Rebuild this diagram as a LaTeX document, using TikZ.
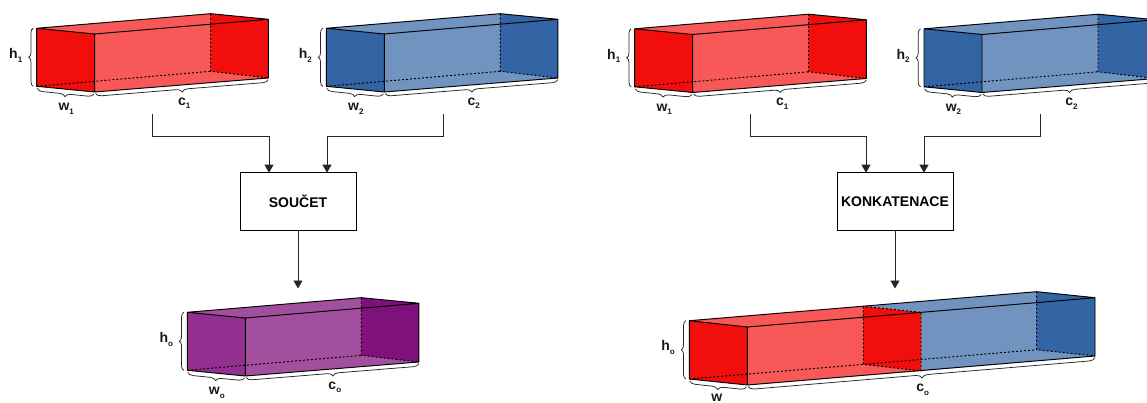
\documentclass[tikz,border=0pt]{standalone}
\usepackage{fontspec}
\setmainfont{Liberation Sans}
\usetikzlibrary{arrows.meta,decorations.pathreplacing,calc}
\definecolor{redD}{HTML}{F30E0E}
\definecolor{redL}{HTML}{F85858}
\definecolor{bluD}{HTML}{3364A4}
\definecolor{bluL}{HTML}{7093C0}
\definecolor{purD}{HTML}{7E117B}
\definecolor{purM}{HTML}{932F8F}
\definecolor{purL}{HTML}{A24F9D}
\tikzset{
  solidedge/.style={draw=black,line width=0.95pt,line join=round},
  hidden/.style={draw=black,line width=0.95pt,dash pattern=on 2pt off 2pt},
  lbl/.style={font=\fontsize{14}{14}\bfseries\selectfont,inner sep=0pt,text=black!90},
  brc/.style={draw=black!85,line width=0.75pt,decorate,decoration={brace,amplitude=#1}},
  brc/.default=5.5pt,
  opbox/.style={draw=black,line width=0.85pt,fill=white,minimum width=116pt,minimum height=58pt,inner sep=0pt,font=\fontsize{14}{14}\bfseries\selectfont},
  flow/.style={draw=black!85,line width=0.85pt,-{Triangle[width=9pt,length=8pt]}},
}
\newcommand{\sbt}[1]{\raisebox{-3.5pt}{\fontsize{8}{8}\selectfont #1}}
% prefix, x, y, dark, light, left face, h-sub, w-sub, c-sub
\newcommand{\cuboidbox}[9]{%
  \begin{scope}[shift={(#2,#3)}]
    \coordinate (#1A) at (0,0);
    \coordinate (#1B) at (58,5.7);
    \coordinate (#1C) at (58,63.7);
    \coordinate (#1D) at (0,58);
    \coordinate (#1E) at (174,-14.6);
    \coordinate (#1F) at (231.6,-9);
    \coordinate (#1G) at (231.6,49.7);
    \coordinate (#1H) at (174,43);
    \fill[#5] (#1A)--(#1E)--(#1F)--(#1G)--(#1C)--(#1D)--cycle;
    \fill[#4] (#1E)--(#1F)--(#1G)--(#1H)--cycle;
    \fill[#6] (#1A)--(#1B)--(#1C)--(#1D)--cycle;
    \draw[hidden] (#1E)--(#1H)--(#1G) (#1D)--(#1H);
    \draw[solidedge] (#1D)--(#1A)--(#1E)--(#1F)--(#1G)--(#1C)--(#1D) (#1A)--(#1B)--(#1F) (#1B)--(#1C);
    \draw[brc=4.5pt] ($(#1D)+(-3.5,0)$) -- ($(#1A)+(-3.5,0)$);
    \draw[brc] ($(#1C)+(-0.8,2)$) -- ($(#1D)+(0.5,2)$);
    \draw[brc] ($(#1G)+(0,1.5)$) -- ($(#1C)+(0.8,1.5)$);
    \node[lbl] (#1h) at (-21,27) {h\sbt{#7}};
    \node[lbl] (#1w) at (29.5,80.5) {w\sbt{#8}};
    \node[lbl] (#1c) at (147.5,75) {c\sbt{#9}};
  \end{scope}
}
\begin{document}
\begin{tikzpicture}[x=1pt,y=-1pt]
\useasboundingbox (0,0) rectangle (1147,403);
\cuboidbox{a}{36.7}{28.3}{redD}{redL}{redD}{1}{1}{1}
\cuboidbox{b}{326.3}{28.3}{bluD}{bluL}{bluD}{2}{2}{2}
\cuboidbox{p}{187.3}{312.3}{purD}{purL}{purM}{o}{o}{o}
\cuboidbox{d}{634.7}{28.8}{redD}{redL}{redD}{1}{1}{1}
\cuboidbox{e}{924}{28.8}{bluD}{bluL}{bluD}{2}{2}{2}

% concatenated block
\coordinate (A) at (689.3,320.7);
\coordinate (B) at (747.3,327);
\coordinate (C) at (747.3,385);
\coordinate (D) at (689.3,379);
\coordinate (E1) at (863.3,306.3);
\coordinate (F1) at (921,312.3);
\coordinate (G1) at (921,371);
\coordinate (H1) at (863.3,364.3);
\coordinate (E2) at (1036.7,291.7);
\coordinate (F2) at (1095,297.7);
\coordinate (G2) at (1095,356);
\coordinate (H2) at (1036.7,349.7);
\fill[redL] (A)--(E1)--(F1)--(G1)--(C)--(D)--cycle;
\fill[bluL] (E1)--(E2)--(F2)--(G2)--(G1)--(F1)--cycle;
\fill[redD] (E1)--(F1)--(G1)--(H1)--cycle;
\fill[redD] (A)--(B)--(C)--(D)--cycle;
\fill[bluD] (E2)--(F2)--(G2)--(H2)--cycle;
\draw[hidden] (E1)--(H1)--(G1)--(F1)--(E1) (E2)--(H2)--(G2) (D)--(H2);
\draw[solidedge] (D)--(A)--(E2)--(F2)--(G2)--(C)--(D) (A)--(B)--(F2) (B)--(C);
\draw[brc=4.5pt] ($(D)+(-3.5,0)$) -- ($(A)+(-3.5,0)$);
\draw[brc] ($(C)+(-0.8,2)$) -- ($(D)+(0.5,2)$);
\draw[brc=6pt] ($(G2)+(0,1.5)$) -- ($(C)+(0.8,1.5)$);
\node[lbl] (hc) at (668,347.7) {h\sbt{o}};
\node[lbl] (wc) at (716.7,398) {w};
\node[lbl] (cc) at (922.7,390) {c\sbt{o}};

% operations
\node[opbox] (sum) at (298,201.7) {SOUČET};
\node[opbox] (cat) at (895,201.7) {KONKATENACE};
\coordinate (s1) at (152.7,114);
\coordinate (s2) at (443,114);
\coordinate (k1) at (750,114);
\coordinate (k2) at (1040,114);
\coordinate (sout) at (298,288.5);
\coordinate (kout) at (895,288.5);
\draw[flow] (s1) |- (269,136) -- (269,172.7);
\draw[flow] (s2) |- (327,136) -- (327,172.7);
\draw[flow] (k1) |- (866,136) -- (866,172.7);
\draw[flow] (k2) |- (924,136) -- (924,172.7);
\draw[flow] (sum) -- (sout);
\draw[flow] (cat) -- (kout);
\end{tikzpicture}
\end{document}
